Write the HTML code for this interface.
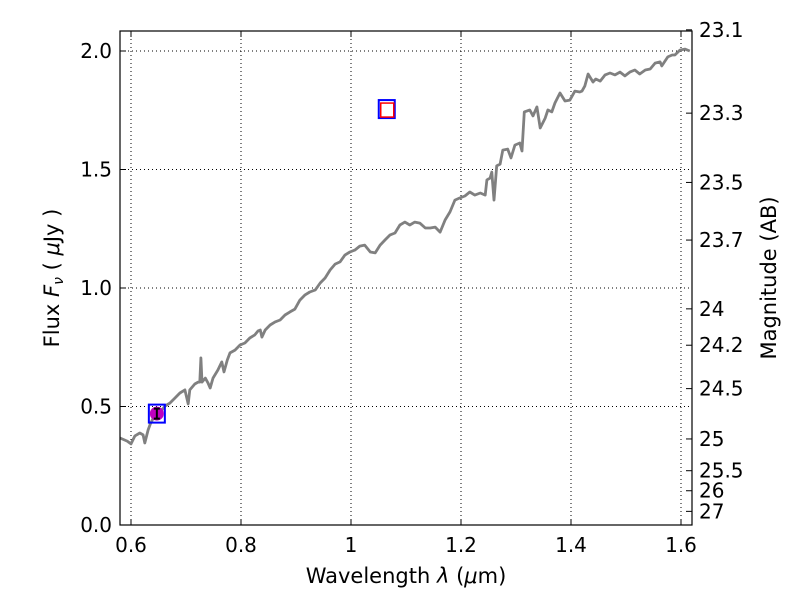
<!DOCTYPE html>
<html><head><meta charset="utf-8"><style>
body{margin:0;background:#fff;}
svg{display:block;font-family:"DejaVu Sans","Liberation Sans",sans-serif;}
</style></head><body>
<svg id="chart" width="800" height="600"></svg>
<script>
const specWl=[0.580,0.593,0.600,0.607,0.616,0.622,0.625,0.631,0.635,0.644,0.653,0.662,0.671,0.680,0.689,0.698,0.704,0.707,0.716,0.722,0.725,0.727,0.729,0.735,0.740,0.744,0.749,0.758,0.765,0.769,0.775,0.780,0.789,0.798,0.807,0.816,0.825,0.831,0.835,0.838,0.844,0.853,0.862,0.871,0.880,0.889,0.898,0.907,0.916,0.925,0.935,0.944,0.953,0.962,0.971,0.980,0.989,0.998,1.007,1.016,1.025,1.035,1.044,1.053,1.062,1.071,1.080,1.089,1.098,1.107,1.116,1.125,1.135,1.144,1.153,1.162,1.171,1.180,1.189,1.198,1.207,1.216,1.225,1.235,1.244,1.247,1.253,1.256,1.260,1.265,1.271,1.276,1.285,1.291,1.298,1.307,1.311,1.315,1.325,1.331,1.338,1.344,1.353,1.358,1.365,1.371,1.380,1.389,1.398,1.407,1.416,1.420,1.425,1.431,1.440,1.445,1.453,1.462,1.471,1.480,1.489,1.498,1.507,1.516,1.525,1.535,1.544,1.553,1.562,1.565,1.576,1.584,1.589,1.598,1.607,1.616];
const specFlux=[0.367,0.354,0.342,0.376,0.388,0.380,0.346,0.401,0.426,0.468,0.477,0.502,0.515,0.536,0.557,0.570,0.511,0.570,0.595,0.603,0.603,0.705,0.603,0.620,0.599,0.578,0.620,0.654,0.688,0.646,0.696,0.726,0.738,0.759,0.768,0.789,0.802,0.819,0.823,0.793,0.823,0.844,0.857,0.865,0.886,0.899,0.911,0.949,0.970,0.983,0.992,1.021,1.042,1.076,1.101,1.110,1.139,1.152,1.160,1.177,1.181,1.152,1.148,1.181,1.203,1.224,1.232,1.266,1.278,1.266,1.278,1.274,1.253,1.253,1.257,1.236,1.287,1.321,1.371,1.380,1.388,1.405,1.392,1.401,1.392,1.456,1.464,1.489,1.371,1.515,1.523,1.582,1.586,1.549,1.603,1.612,1.578,1.743,1.751,1.726,1.764,1.675,1.717,1.751,1.743,1.781,1.823,1.789,1.793,1.831,1.827,1.831,1.852,1.903,1.869,1.882,1.873,1.899,1.907,1.899,1.911,1.895,1.911,1.920,1.903,1.920,1.924,1.949,1.954,1.937,1.975,1.983,1.983,2.004,2.008,2.000];
const photWl=[0.647];
const photFlux=[0.47];
const modelWl=[1.065];
const modelFlux=[1.755];
const xTicks=[0.6,0.8,1.0,1.2,1.4,1.6];
const xTickLabels=["0.6","0.8","1","1.2","1.4","1.6"];
const yTicks=[0,0.5,1,1.5,2];
const yTickLabels=["0.0","0.5","1.0","1.5","2.0"];
const magTicks=[23.1,23.3,23.5,23.7,24,24.2,24.5,25,25.5,26,27];

const L=120,R=692,T=31,B=525,X0=0.58,X1=1.62,Y0=0,Y1=2.0844;
const xs=v=>L+(v-X0)/(X1-X0)*(R-L);
const ys=v=>B-(v-Y0)/(Y1-Y0)*(B-T);
const svg=document.getElementById('chart');
const NS='http://www.w3.org/2000/svg';
function mk(tag,attrs,parent){const e=document.createElementNS(NS,tag);for(const k in attrs)e.setAttribute(k,attrs[k]);(parent||svg).appendChild(e);return e;}

xTicks.forEach((t,i)=>{
  const x=xs(t);
  const g=mk('line',{x1:x,x2:x,y1:T,y2:B,stroke:'#000','stroke-dasharray':'1,3','stroke-width':1});
  
  
  mk('line',{x1:x,x2:x,y1:B,y2:B-6,stroke:'#000'});
  mk('line',{x1:x,x2:x,y1:T,y2:T+6,stroke:'#000'});
  const tx=mk('text',{x:x,y:B+27,'text-anchor':'middle','font-size':20});
  tx.textContent=xTickLabels[i];
  
  
});
yTicks.forEach((t,i)=>{
  const y=ys(t);
  const g=mk('line',{x1:L,x2:R,y1:y,y2:y,stroke:'#000','stroke-dasharray':'1,3','stroke-width':1});
  
  
  mk('line',{x1:L,x2:L+6,y1:y,y2:y,stroke:'#000'});
  const tx=mk('text',{x:L-8,y:y+7,'text-anchor':'end','font-size':20});
  tx.textContent=yTickLabels[i];
  
  
});
magTicks.forEach(m=>{
  const f=Math.pow(10,(23.9-m)/2.5);
  const y=ys(f);
  mk('line',{x1:R,x2:R-6,y1:y,y2:y,stroke:'#000'});
  const tx=mk('text',{x:R+7,y:y+7,'text-anchor':'start','font-size':20});
  tx.textContent=String(m);
  
  
});

const pts=specWl.map((w,i)=>xs(w).toFixed(1)+','+ys(specFlux[i]).toFixed(1)).join(' ');
const pl=mk('polyline',{points:pts,fill:'none',stroke:'#808080','stroke-width':2.8,'stroke-linejoin':'round'});



photWl.forEach((w,i)=>{
  const x=xs(w),y=ys(photFlux[i]);
  const g=mk('g',{});
  
  
  mk('rect',{x:x-8,y:y-9,width:16,height:18,fill:'none',stroke:'#0000ff','stroke-width':2},g);
  mk('circle',{cx:x,cy:y,r:7,fill:'#bf00bf'},g);
  mk('path',{d:`M${x-3} ${y-5}H${x+3}M${x} ${y-5}V${y+5}M${x-3} ${y+5}H${x+3}`,stroke:'#000','stroke-width':2},g);
});
modelWl.forEach((w,i)=>{
  const x=xs(w),y=ys(modelFlux[i]);
  const g=mk('g',{});
  
  
  mk('rect',{x:x-8,y:y-9,width:16,height:18,fill:'none',stroke:'#0000ff','stroke-width':2},g);
  mk('rect',{x:x-6,y:y-6,width:13,height:14,fill:'none',stroke:'#ff0000','stroke-width':1.5},g);
});

const fr=mk('rect',{x:L,y:T,width:R-L,height:B-T,fill:'none',stroke:'#000','stroke-width':1.2});



const xl=mk('text',{x:406,y:583,'text-anchor':'middle','font-size':21});
xl.innerHTML='Wavelength  <tspan font-style="italic">λ</tspan> (<tspan font-style="italic">μ</tspan>m)';


const yl=mk('text',{x:0,y:0,'text-anchor':'middle','font-size':21,transform:'translate(59,278) rotate(-90)'});
yl.innerHTML='Flux  <tspan font-style="italic">F</tspan><tspan font-style="italic" font-size="14" dy="4">ν</tspan><tspan dy="-4">  ( </tspan><tspan font-style="italic">μ</tspan>Jy )';


const yr=mk('text',{x:0,y:0,'text-anchor':'middle','font-size':21,transform:'translate(776,278) rotate(-90)'});
yr.textContent='Magnitude (AB)';


</script>
</body></html>
